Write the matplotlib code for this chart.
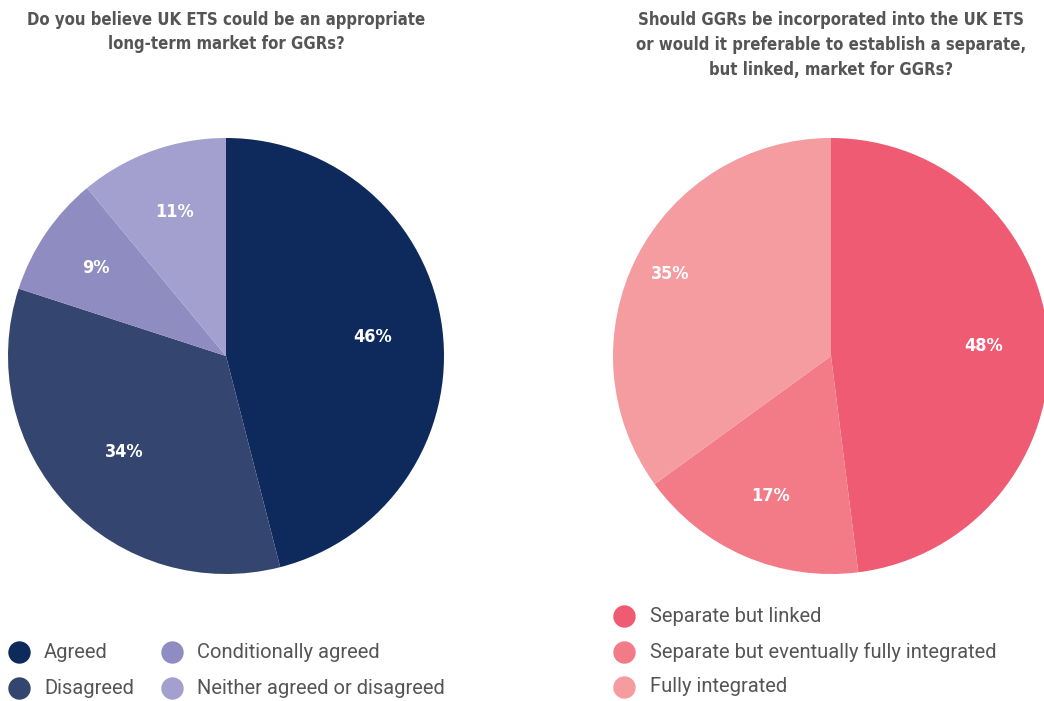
import matplotlib
matplotlib.use("Agg")
import matplotlib.pyplot as plt
import numpy as np

# Data
left_title = "Do you believe UK ETS could be an appropriate\nlong-term market for GGRs?"
left_labels = ["Agreed", "Disagreed", "Conditionally agreed", "Neither agreed or disagreed"]
left_values = [46, 34, 9, 11]
left_colors = ["#0e2a5c", "#34466f", "#8f8cc2", "#a3a0d0"]

right_title = "Should GGRs be incorporated into the UK ETS\nor would it preferable to establish a separate,\nbut linked, market for GGRs?"
right_labels = ["Separate but linked", "Separate but eventually fully integrated", "Fully integrated"]
right_values = [48, 17, 35]
right_colors = ["#ef5b73", "#f27b87", "#f49ca0"]

W, H = 1044, 701
fig = plt.figure(figsize=(W / 100, H / 100), dpi=100)
ax = fig.add_axes([0, 0, 1, 1])

TITLE_FONT = ["DejaVu Sans"]
LEG_FONT = ["Roboto", "DejaVu Sans"]
TXT = "#555555"


def draw_pie(values, colors, center, radius, dists):
    wedges, _ = ax.pie(values, colors=colors, startangle=90, counterclock=False,
                       center=center, radius=radius, frame=True,
                       wedgeprops=dict(linewidth=0))
    for w, v, d in zip(wedges, values, dists):
        ang = np.deg2rad((w.theta1 + w.theta2) / 2)
        x = center[0] + d * radius * np.cos(ang)
        y = center[1] + d * radius * np.sin(ang)
        ax.text(x, y, f"{v}%", color="white", fontsize=13, fontweight="bold",
                family=TITLE_FONT, fontstretch="condensed", ha="center", va="center")


draw_pie(left_values, left_colors, (226, H - 356), 218, [0.68, 0.64, 0.72, 0.70])
draw_pie(right_values, right_colors, (831, H - 356), 218, [0.70, 0.70, 0.83])
ax.set_xlim(0, W)
ax.set_ylim(0, H)
ax.set_aspect("equal")
ax.axis("off")

ax.text(226, H - 11, left_title, ha="center", va="top", fontsize=12, fontweight="bold",
        family=TITLE_FONT, fontstretch="condensed", color=TXT, linespacing=1.45)
ax.text(831, H - 11, right_title, ha="center", va="top", fontsize=12, fontweight="bold",
        family=TITLE_FONT, fontstretch="condensed", color=TXT, linespacing=1.5)

# Left legend (2 columns)
left_pos = [(19, 652), (19, 688), (172, 652), (172, 688)]
for (px, py), lab, col in zip(left_pos, left_labels, left_colors):
    ax.scatter([px], [H - py], s=260, color=col, linewidths=0)
    ax.text(px + 25, H - py, lab, ha="left", va="center", fontsize=14.5,
            family=LEG_FONT, color=TXT)

# Right legend
right_pos = [(624, 616), (624, 652), (624, 687)]
for (px, py), lab, col in zip(right_pos, right_labels, right_colors):
    ax.scatter([px], [H - py], s=260, color=col, linewidths=0)
    ax.text(px + 26, H - py, lab, ha="left", va="center", fontsize=14.5,
            family=LEG_FONT, color=TXT)

fig.savefig("out.png", dpi=100, facecolor="white")
